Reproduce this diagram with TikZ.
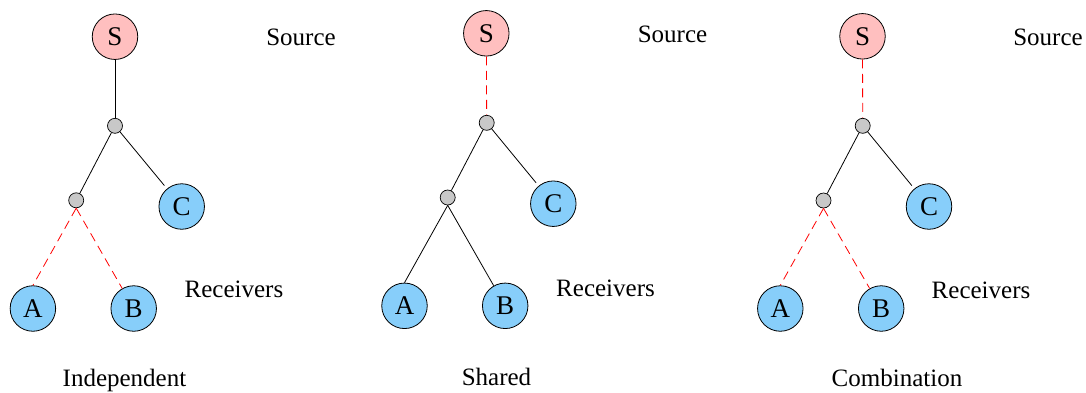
\documentclass[tikz,border=0pt]{standalone}
\usepackage{fontspec}
\setmainfont{Liberation Serif}
\definecolor{srcpink}{RGB}{255,191,191}
\definecolor{rcvblue}{RGB}{135,206,250}
\definecolor{rtrgray}{RGB}{200,200,200}
\tikzset{
  hostnode/.style={circle, draw=black, line width=0.8pt, minimum size=45.5pt, inner sep=0pt,
    font=\fontsize{27}{30}\selectfont},
  src/.style={hostnode, fill=srcpink},
  rcv/.style={hostnode, fill=rcvblue},
  rtr/.style={circle, draw=black, line width=0.7pt, fill=rtrgray, minimum size=15pt, inner sep=0pt},
  link/.style={line width=0.8pt, black},
  sharedlink/.style={line width=0.8pt, red, dash pattern=on 9pt off 5.5pt},
  lbl/.style={anchor=base, inner sep=0pt},
}
\begin{document}
\begin{tikzpicture}[x=1pt, y=-1pt, font=\fontsize{25}{30}\selectfont]
\useasboundingbox (0,0) rectangle (1086,392);

% Independent
\node[src] (aS) at (115,36.7) {S};
\node[rtr] (aR1) at (115,125.8) {};
\node[rtr] (aR2) at (76.2,200.3) {};
\node[rcv] (aC) at (181.7,206.5) {C};
\node[rcv] (aA) at (32.9,308.5) {A};
\node[rcv] (aB) at (133.7,308.5) {B};
\draw[link] (aS) -- (aR1);
\draw[link] (aR1) -- (aR2);
\draw[link, shorten >=4pt] (aR1) -- (aC);
\draw[sharedlink] (aR2.south) -- (aA.north);
\draw[sharedlink] (aR2.south) -- (aB);
\node[lbl] (aSrc) at (301,45.7) {Source};
\node[lbl] (aRcv) at (234,297.7) {Receivers};
\node[lbl] (aTitle) at (124.5,386) {Independent};

% Shared
\node[src] (bS) at (486.3,33.3) {S};
\node[rtr] (bR1) at (486.7,122.8) {};
\node[rtr] (bR2) at (447.7,197.5) {};
\node[rcv] (bC) at (553.3,203.7) {C};
\node[rcv] (bA) at (404.5,305.8) {A};
\node[rcv] (bB) at (505.2,305.8) {B};
\draw[sharedlink] (bS) -- (bR1);
\draw[link] (bR1) -- (bR2);
\draw[link, shorten >=4pt] (bR1) -- (bC);
\draw[link] (bR2.south) -- (bA.north);
\draw[link] (bR2.south) -- (bB);
\node[lbl] (bSrc) at (672.5,42.3) {Source};
\node[lbl] (bRcv) at (605.5,296) {Receivers};
\node[lbl] (bTitle) at (496.5,385) {Shared};

% Combination
\node[src] (cS) at (862.5,36.3) {S};
\node[rtr] (cR1) at (862.7,125.8) {};
\node[rtr] (cR2) at (823.5,200.5) {};
\node[rcv] (cC) at (929,206.5) {C};
\node[rcv] (cA) at (780.3,308.5) {A};
\node[rcv] (cB) at (881.2,308.5) {B};
\draw[sharedlink] (cS) -- (cR1);
\draw[link] (cR1) -- (cR2);
\draw[link, shorten >=4pt] (cR1) -- (cC);
\draw[sharedlink] (cR2.south) -- (cA.north);
\draw[sharedlink] (cR2.south) -- (cB);
\node[lbl] (cSrc) at (1048,45) {Source};
\node[lbl] (cRcv) at (981,298) {Receivers};
\node[lbl] (cTitle) at (897,386.7) {Combination};
\end{tikzpicture}
\end{document}
